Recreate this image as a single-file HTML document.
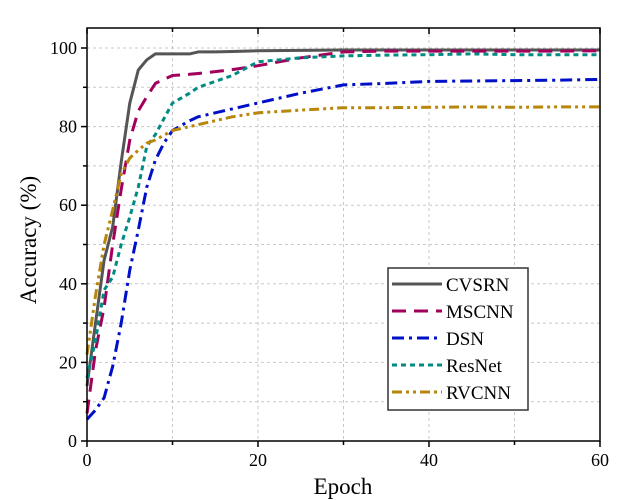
<!DOCTYPE html>
<html><head><meta charset="utf-8"><style>
body{margin:0;background:#fff}
svg{display:block;font-family:"Liberation Serif",serif}
</style></head><body>
<svg width="638" height="500">
<g id="grid"></g>
<g id="series"></g>
<g id="axes"></g>
<text x="343" y="494" font-size="23" text-anchor="middle">Epoch</text>
<text transform="translate(36,240) rotate(-90)" font-size="23" text-anchor="middle">Accuracy (%)</text>
<g id="legend"></g>
</svg>
<script>
const epochs=[0,1,2,3,4,5,6,7,8,9,10,12,13,15,17,20,25,30,35,40,45,50,55,60];
const cvsrn=[14,30,46,54.5,71,86,94.4,97,98.5,98.5,98.5,98.5,99,99,99.1,99.3,99.4,99.5,99.5,99.5,99.5,99.5,99.5,99.5];
const mscnn=[7,23,34,50,64,76.6,84,87.6,91,92,93,93.3,93.5,94,94.5,95.5,97.5,99,99.2,99.2,99.2,99.2,99.2,99.3];
const dsn=[5.5,7.9,11,19,30,43.5,53.7,64.6,71.5,75.8,79,81.5,82.5,83.5,84.5,86,88.5,90.6,91,91.5,91.6,91.7,91.8,92];
const resnet=[16,25.7,38.4,41.7,50,57,64.6,75,78,82,86,88.5,90,91.5,93,96.5,97.5,98,98.2,98.3,98.5,98.3,98.3,98.3];
const rvcnn=[22,37,50,58.8,68,72,74,75.8,76.6,77.8,79,80,80.5,81.5,82.5,83.5,84.2,84.8,84.8,84.9,85,84.9,85,85];
const seriesNames=["CVSRN","MSCNN","DSN","ResNet","RVCNN"];
const xTicks=[0,20,40,60];
const yTicks=[0,20,40,60,80,100];
const NS="http://www.w3.org/2000/svg";
const X0=87,X1=600,Y0=441,Y1=48,TOP=28;
const sx=v=>X0+(v/60)*(X1-X0);
const sy=v=>Y0-(v/100)*(Y0-Y1);
function mk(t,a,p){const e=document.createElementNS(NS,t);for(const k in a)e.setAttribute(k,a[k]);p.appendChild(e);return e;}
const grid=document.getElementById('grid'),axes=document.getElementById('axes'),ser=document.getElementById('series'),leg=document.getElementById('legend');
for(let v=10;v<=100;v+=10){const l=mk('line',{x1:X0,x2:X1,y1:sy(v),y2:sy(v),stroke:'#c8c8c8','stroke-width':1,'stroke-dasharray':'3,3'},grid);

}
for(let v=10;v<60;v+=10){const l=mk('line',{x1:sx(v),x2:sx(v),y1:TOP,y2:Y0,stroke:'#c8c8c8','stroke-width':1,'stroke-dasharray':'3,3'},grid);

}
const styles=[{c:'#555555',d:'none'},{c:'#a3005c',d:'14,8'},{c:'#0010c8',d:'12,5,3,5'},{c:'#008b84',d:'5,4'},{c:'#b8860b',d:'10,4,3,4,3,4'}];
const data=[cvsrn,mscnn,dsn,resnet,rvcnn];
data.forEach((arr,i)=>{const pts=epochs.map((e,j)=>sx(e).toFixed(1)+','+sy(arr[j]).toFixed(1)).join(' ');
const p=mk('polyline',{points:pts,fill:'none',stroke:styles[i].c,'stroke-width':3,'stroke-dasharray':styles[i].d,'stroke-linejoin':'round'},ser);

});
const frame=mk('rect',{x:X0,y:TOP,width:X1-X0,height:Y0-TOP,fill:'none',stroke:'#000','stroke-width':1.5},axes);


for(let v=0;v<=60;v+=10){const big=v%20===0;mk('line',{x1:sx(v),x2:sx(v),y1:Y0,y2:Y0+(big?6:4),stroke:'#000','stroke-width':1.5},axes);mk('line',{x1:sx(v),x2:sx(v),y1:TOP,y2:TOP+(big?6:4),stroke:'#000','stroke-width':1.5},axes);}
for(let v=0;v<=100;v+=10){const big=v%20===0;mk('line',{x1:X0,x2:X0-(big?6:4),y1:sy(v),y2:sy(v),stroke:'#000','stroke-width':1.5},axes);}
xTicks.forEach(v=>{const t=mk('text',{x:sx(v),y:Y0+25,'font-size':18,'text-anchor':'middle'},axes);t.textContent=v;

});
yTicks.forEach(v=>{const t=mk('text',{x:X0-10,y:sy(v)+6,'font-size':18,'text-anchor':'end'},axes);t.textContent=v;

});
const box=mk('rect',{x:388,y:268,width:140,height:142,fill:'#fff',stroke:'#333','stroke-width':1.5},leg);


seriesNames.forEach((n,i)=>{const y=284+i*27;const g=mk('g',{},leg);


mk('line',{x1:392,x2:442,y1:y,y2:y,stroke:styles[i].c,'stroke-width':3,'stroke-dasharray':styles[i].d},g);
const t=mk('text',{x:446,y:y+7,'font-size':19},g);t.textContent=n;});
</script>
</body></html>
